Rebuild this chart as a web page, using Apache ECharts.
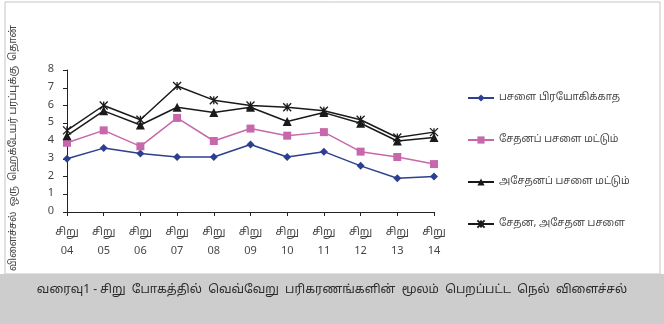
<!DOCTYPE html>
<html><head><meta charset="utf-8">
<script src="https://cdn.jsdelivr.net/npm/echarts@6/dist/echarts.min.js"></script>
<style>html,body{margin:0;padding:0;background:#fff}#c{width:664px;height:324px}</style>
</head><body><div id="c"></div>
<script>
const categories = ['சிறு\n04','சிறு\n05','சிறு\n06','சிறு\n07','சிறு\n08','சிறு\n09','சிறு\n10','சிறு\n11','சிறு\n12','சிறு\n13','சிறு\n14'];
const seriesNames = ['பசளை பிரயோகிக்காத','சேதனப் பசளை மட்டும்','அசேதனப் பசளை மட்டும்','சேதன, அசேதன பசளை'];
const noFertilizer = [3.0,3.6,3.3,3.1,3.1,3.8,3.1,3.4,2.6,1.9,2.0];
const organicOnly = [3.9,4.6,3.7,5.3,4.0,4.7,4.3,4.5,3.4,3.1,2.7];
const inorganicOnly = [4.3,5.7,4.9,5.9,5.6,5.9,5.1,5.6,5.0,4.0,4.2];
const combined = [4.6,6.0,5.2,7.1,6.3,6.0,5.9,5.7,5.2,4.2,4.5];
const yTicks = [0,1,2,3,4,5,6,7,8];
const yTitle = 'விளைச்சல்  ஒரு  ஹெக்டேயர் பரப்புக்கு  தொன்';
const caption = 'வரைவு1 - சிறு  போகத்தில்  வெவ்வேறு  பரிகரணங்களின்  மூலம்  பெறப்பட்ட  நெல்  விளைச்சல்';

const FONT = '"Noto Sans Tamil","Noto Serif Tamil","Liberation Serif","DejaVu Serif",serif';
const chart = echarts.init(document.getElementById('c'), null, {renderer:'canvas'});
const star = 'path://M0,0L10,10M10,0L0,10M5,0L5,10';
chart.setOption({
  animation:false,
  backgroundColor:'#ffffff',
  textStyle:{fontFamily:FONT},
  graphic:[
    {type:'rect', shape:{x:5,y:2,width:655,height:272}, style:{fill:'#fff',stroke:'#c4c4c4',lineWidth:1}, z:-10},
    {type:'rect', shape:{x:0,y:274,width:664,height:50}, style:{fill:'#cdcdcd'}, z:-10},
    {type:'text', left:'center', top:285, style:{text:caption, fill:'#2a2a2a', font:'12px '+FONT}},
    {type:'text', x:14, y:148, rotation:Math.PI/2, style:{text:yTitle, fill:'#444', font:'10px '+FONT, align:'center', verticalAlign:'middle'}}
  ],
  grid:{left:67, right:230, top:70, bottom:112},
  legend:{
    orient:'vertical', left:462, top:88, itemGap:32, itemWidth:26, itemHeight:9,
    textStyle:{fontSize:10, color:'#444', fontFamily:FONT},
    data:seriesNames
  },
  xAxis:{
    type:'category', data:categories, boundaryGap:false,
    axisLine:{lineStyle:{color:'#222', width:1}},
    axisTick:{show:true, length:4, lineStyle:{color:'#222'}},
    axisLabel:{color:'#444', fontSize:11, lineHeight:19, margin:11, interval:0}
  },
  yAxis:{
    type:'value', min:yTicks[0], max:yTicks[yTicks.length-1], interval:1,
    axisLine:{show:true, lineStyle:{color:'#222', width:1}},
    axisTick:{show:true, length:4, lineStyle:{color:'#222'}},
    splitLine:{show:false},
    axisLabel:{color:'#444', fontSize:11, margin:13}
  },
  series:[
    {name:seriesNames[0], type:'line', data:noFertilizer, symbol:'diamond', symbolSize:8,
     lineStyle:{color:'#2d3f8f', width:1.5}, itemStyle:{color:'#2d3f8f'}},
    {name:seriesNames[1], type:'line', data:organicOnly, symbol:'rect', symbolSize:8,
     lineStyle:{color:'#c868ac', width:1.5}, itemStyle:{color:'#c868ac'}},
    {name:seriesNames[2], type:'line', data:inorganicOnly, symbol:'triangle', symbolSize:9,
     lineStyle:{color:'#1a1a1a', width:1.5}, itemStyle:{color:'#1a1a1a'}},
    {name:seriesNames[3], type:'line', data:combined, symbol:star, symbolSize:8,
     lineStyle:{color:'#1a1a1a', width:1.5}, itemStyle:{color:'rgba(0,0,0,0)', borderColor:'#1a1a1a', borderWidth:1.3}}
  ]
});
</script></body></html>
